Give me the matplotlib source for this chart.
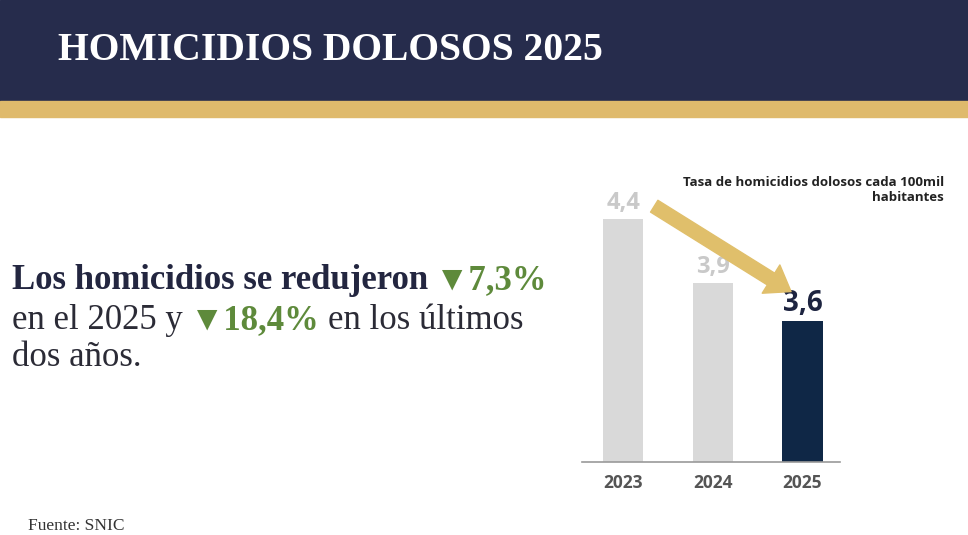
import matplotlib.pyplot as plt
from matplotlib.patches import Rectangle, FancyArrowPatch

# data
years = ["2023", "2024", "2025"]
rates = [4.4, 3.9, 3.6]
rate_labels = ["4,4", "3,9", "3,6"]

W, H = 968, 535
fig = plt.figure(figsize=(W / 100, H / 100), dpi=100)
fig.patch.set_facecolor("white")

# full-figure axes for the slide decoration and text
bg = fig.add_axes([0, 0, 1, 1])
bg.set_xlim(0, W)
bg.set_ylim(H, 0)  # pixel coords, origin top-left
bg.axis("off")

# header bands
bg.add_patch(Rectangle((0, 0), W, 101, color="#262c4c", zorder=0))
bg.add_patch(Rectangle((0, 101), W, 16, color="#dfba6c", zorder=0))

bg.text(58, 60, "HOMICIDIOS DOLOSOS 2025", color="white",
        fontsize=28.5, fontweight="bold", family="Liberation Serif",
        ha="left", va="baseline")

# left statement, built piece by piece
serif = ["Liberation Serif", "DejaVu Serif"]
dark = "#2b2b36"
navy_txt = "#232640"
green = "#5e8a3b"
fs = 25

t1 = bg.text(12, 289, "Los homicidios se redujeron", color=navy_txt,
             fontsize=fs, fontweight="bold", family=serif, ha="left", va="baseline")
bg.annotate("\u25BC7,3%", xy=(1, 0), xycoords=t1, xytext=(5, 0),
            textcoords="offset points", color=green, fontsize=fs,
            fontweight="bold", family=serif, ha="left", va="bottom")

t2 = bg.text(12, 329, "en el 2025 y", color=dark, fontsize=fs,
             family=serif, ha="left", va="baseline")
a2 = bg.annotate("\u25BC18,4%", xy=(1, 0), xycoords=t2, xytext=(5, 0),
                 textcoords="offset points", color=green, fontsize=fs,
                 fontweight="bold", family=serif, ha="left", va="bottom")
bg.annotate("en los últimos", xy=(1, 0), xycoords=a2, xytext=(6, 0),
            textcoords="offset points", color=dark, fontsize=fs,
            family=serif, ha="left", va="bottom")
bg.text(12, 366, "dos años.", color=dark, fontsize=fs,
        family=serif, ha="left", va="baseline")

bg.text(28, 530, "Fuente: SNIC", color="#333333", fontsize=12.5,
        family=serif, ha="left", va="baseline")

bg.text(944, 201, "Tasa de homicidios dolosos cada 100mil\nhabitantes",
        ha="right", va="baseline", fontsize=9.5, fontweight="bold",
        color="#222222", family="Open Sans", linespacing=1.15,
        multialignment="right")

# bar chart
ax = fig.add_axes([582 / W, 1 - 462 / H, (840 - 582) / W, (462 - 160) / H])
ax.set_facecolor("none")
colors = ["#d9d9d9", "#d9d9d9", "#0f2746"]
x = list(range(len(years)))
ax.bar(x, rates, width=0.45, color=colors, zorder=2)
ax.set_xlim(-0.46, 2.42)
ax.set_ylim(2.5, 2.5 + 302 / 128)
for s in ["top", "right", "left"]:
    ax.spines[s].set_visible(False)
ax.spines["bottom"].set_color("#9a9a9a")
ax.spines["bottom"].set_linewidth(1.2)
ax.set_yticks([])
ax.set_xticks(x)
ax.set_xticklabels(years, fontsize=12.5, fontweight="bold", color="#555555",
                   family="Open Sans")
ax.tick_params(axis="x", length=0, pad=9)

label_col = ["#c9c9c9", "#c9c9c9", "#1d2440"]
label_fs = [17, 17, 20]
label_pad = [3, 3, 2]
for i, (v, lab) in enumerate(zip(rates, rate_labels)):
    ax.annotate(lab, (i, v), xytext=(0, label_pad[i]), textcoords="offset points",
                ha="center", va="bottom", fontsize=label_fs[i],
                fontweight="bold", color=label_col[i], family="Open Sans")

# gold arrow from 2023 label toward 2025 label
ax.add_patch(FancyArrowPatch((0.32, rates[0] + 0.11), (1.9, rates[2] + 0.22),
                             arrowstyle="simple,head_width=2.4,head_length=1.7,tail_width=1.0",
                             mutation_scale=10, color="#e0bf6b", zorder=3,
                             clip_on=False))

fig.savefig("out.png", dpi=100)
